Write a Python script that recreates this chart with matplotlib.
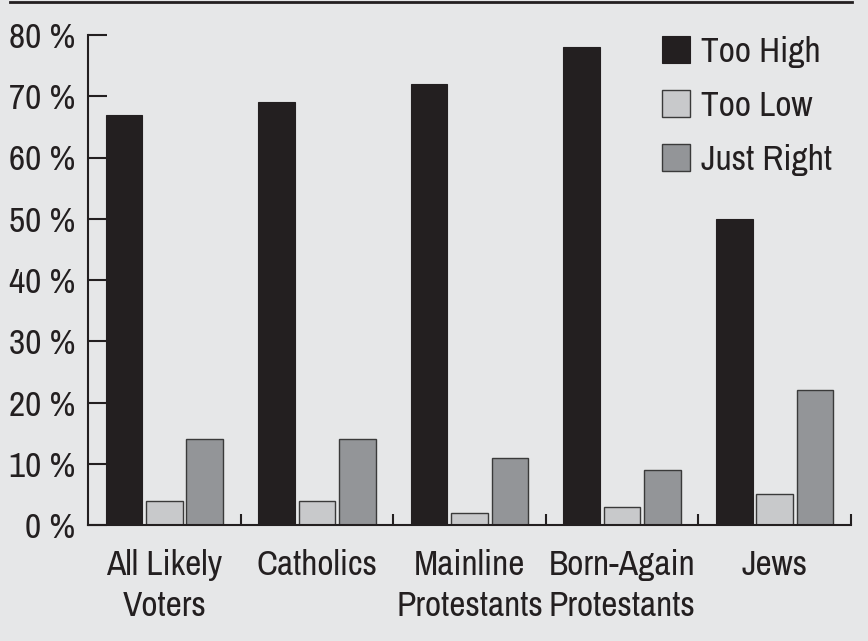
import numpy as np
from matplotlib import pyplot as plt
from matplotlib.lines import Line2D

# narrow grotesque, close to the condensed Helvetica of the original
plt.rcParams['font.family'] = ['Archivo Narrow', 'Liberation Sans', 'DejaVu Sans']

#------------------------------------------------------------------
# data
#------------------------------------------------------------------
groups = ['All Likely\nVoters', 'Catholics', 'Mainline\nProtestants',
          'Born-Again\nProtestants', 'Jews']
too_high = [67, 69, 72, 78, 50]
too_low = [4, 4, 2, 3, 5]
just_right = [14, 14, 11, 9, 22]
y_ticks = [0, 10, 20, 30, 40, 50, 60, 70, 80]

bg = '#e6e7e8'
ink = '#231f20'
c_low = '#c8c9cb'
c_right = '#939598'
edge = '#3a3a3a'

label_size = 25.5

fig = plt.figure(figsize=(8.68, 6.41), dpi=100, facecolor=bg)
ax = fig.add_axes([88/868, (641-525)/641, (851-88)/868, (525-35)/641])
ax.set_facecolor(bg)

x = np.arange(len(groups))
w = 0.24
ax.bar(x - 0.265, too_high, w, color=ink, edgecolor=ink, linewidth=0.8, label='Too High')
ax.bar(x, too_low, w, color=c_low, edgecolor=edge, linewidth=1.0, label='Too Low')
ax.bar(x + 0.265, just_right, w, color=c_right, edgecolor=edge, linewidth=1.0, label='Just Right')

ax.set_xlim(-0.5, len(groups) - 0.5)
ax.set_ylim(0, 80)

for s in ['top', 'right']:
    ax.spines[s].set_visible(False)
for s in ['left', 'bottom']:
    ax.spines[s].set_linewidth(1.5)
    ax.spines[s].set_color(ink)

ax.set_yticks(y_ticks)
ax.set_yticklabels(['%d %%' % v for v in y_ticks], fontsize=label_size, color=ink)
ax.tick_params(axis='y', direction='in', length=14, width=1.5, pad=9, color=ink)

# boundary ticks on x, labels at group centres
ax.set_xticks(x + 0.5)
ax.set_xticklabels([])
ax.tick_params(axis='x', which='major', direction='in', length=8, width=1.5, color=ink)
ax.set_xticks(x, minor=True)
ax.set_xticklabels(groups, minor=True, fontsize=label_size, color=ink, linespacing=1.36)
ax.tick_params(axis='x', which='minor', length=0, pad=17)

leg = ax.legend(loc='upper left', bbox_to_anchor=((662-88)/763, (525-36)/490), frameon=False,
                fontsize=label_size, handlelength=0.8, handleheight=0.8,
                handletextpad=0.3, labelspacing=0.62, borderaxespad=0, borderpad=0)
for t in leg.get_texts():
    t.set_color(ink)

# rule across the top
fig.add_artist(Line2D([10/868, 852/868], [1 - 1.5/641, 1 - 1.5/641],
                      transform=fig.transFigure, color=ink, linewidth=2))

fig.savefig('out.png', dpi=100, facecolor=bg)
